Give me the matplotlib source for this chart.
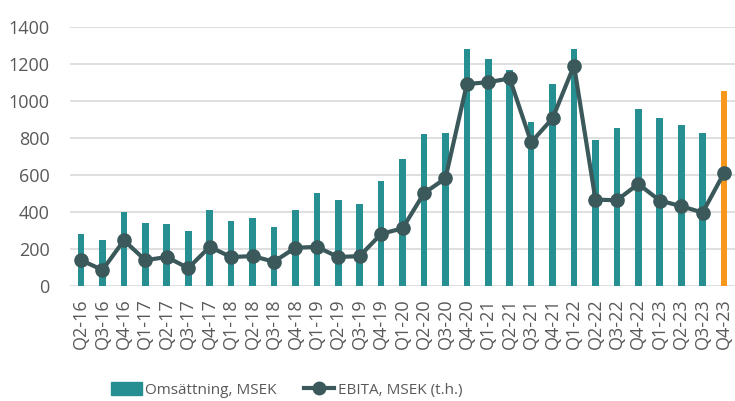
import matplotlib
matplotlib.use("Agg")
from matplotlib import pyplot as plt
from matplotlib.patches import Patch
from matplotlib.lines import Line2D
import numpy as np

plt.rcParams['font.family'] = ['Open Sans', 'DejaVu Sans']

kvartal = ['Q2-16', 'Q3-16', 'Q4-16',
           'Q1-17', 'Q2-17', 'Q3-17', 'Q4-17',
           'Q1-18', 'Q2-18', 'Q3-18', 'Q4-18',
           'Q1-19', 'Q2-19', 'Q3-19', 'Q4-19',
           'Q1-20', 'Q2-20', 'Q3-20', 'Q4-20',
           'Q1-21', 'Q2-21', 'Q3-21', 'Q4-21',
           'Q1-22', 'Q2-22', 'Q3-22', 'Q4-22',
           'Q1-23', 'Q2-23', 'Q3-23', 'Q4-23']

omsattning = [280, 245, 400,
              340, 335, 298, 410,
              350, 365, 320, 410,
              500, 465, 440, 565,
              685, 820, 825, 1280,
              1225, 1165, 885, 1090,
              1280, 785, 855, 955,
              905, 870, 825, 1050]

ebita = [138, 85, 245,
         138, 155, 95, 210,
         155, 160, 130, 205,
         210, 155, 160, 280,
         310, 500, 580, 1090,
         1100, 1120, 775, 905,
         1190, 465, 462, 550,
         460, 430, 395, 610]

teal = '#268F91'
orange = '#F7981D'
morkgron = '#3B595B'
textfarg = '#595959'

fig = plt.figure(figsize=(7.35, 4.01), dpi=100)
ax = fig.add_axes([0.0957, 0.2875, 0.904, 0.646])

x = np.arange(len(kvartal))
farger = [teal] * (len(kvartal) - 1) + [orange]
ax.bar(x, omsattning, width=0.31, color=farger, zorder=2)
ax.plot(x, ebita, color=morkgron, linewidth=3, marker='o', markersize=9.5, zorder=3)

ax.set_xlim(-0.5, len(kvartal) - 0.5)
ax.set_ylim(0, 1400)
ax.set_yticks(range(0, 1401, 200))
ax.yaxis.grid(True, color='#D9D9D9', linewidth=1.2, zorder=0)
ax.set_axisbelow(True)
for s in ax.spines.values():
    s.set_visible(False)
ax.tick_params(axis='both', length=0, colors=textfarg, labelsize=13)
ax.tick_params(axis='y', pad=15)
ax.tick_params(axis='x', pad=9)
ax.set_xticks(x)
ax.set_xticklabels(kvartal, rotation=90)

handtag = [Patch(color=teal),
           Line2D([0], [0], color=morkgron, linewidth=3, marker='o', markersize=9)]
fig.legend(handtag, ['Omsättning, MSEK', 'EBITA, MSEK (t.h.)'],
           loc='center', bbox_to_anchor=(0.39, 0.028), ncol=2, frameon=False,
           fontsize=11, labelcolor=textfarg, handlelength=2.0, handleheight=1.0,
           handletextpad=0.2, columnspacing=1.8)

fig.savefig('out.png', dpi=100)
